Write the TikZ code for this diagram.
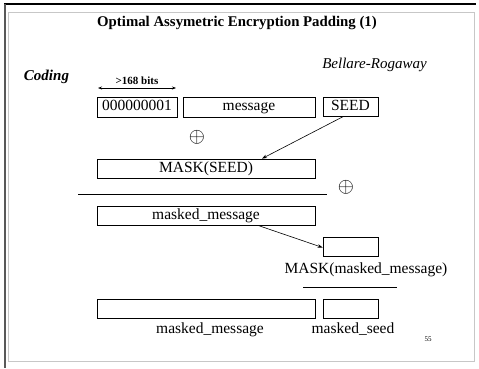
\documentclass[tikz,border=0pt]{standalone}
\usepackage{fontspec}
\setmainfont{Liberation Serif}
\usetikzlibrary{arrows.meta}
\tikzset{
  x=1pt, y=-1pt,
  box/.style={draw, line width=0.8pt, inner sep=0pt, minimum height=19pt,
    text height=10.5pt, text depth=3.2pt,
    font=\fontsize{15.5}{16}\selectfont},
  lbl/.style={inner sep=0pt, text height=10.5pt, text depth=3.2pt,
    font=\fontsize{15.5}{16}\selectfont},
  link/.style={line width=0.6pt, -{Stealth[length=5pt,width=3.5pt]}},
  rule/.style={line width=0.8pt},
  xorsym/.style={inner sep=0pt, font=\fontsize{22}{22}\selectfont},
}
\begin{document}
\begin{tikzpicture}
\useasboundingbox (0,0) rectangle (479,368);
% slide frame
\draw[line width=1.5pt] (4,4) -- (476,4);
\draw[line width=2pt, black!65] (4.5,4) -- (4.5,368);
\draw[line width=0.9pt, black!22] (8.5,12.5) rectangle (474.5,361.5);

% headings
\node[inner sep=0pt, font=\fontsize{14.8}{16}\selectfont\bfseries] (title) at (237,23)
  {Optimal Assymetric Encryption Padding (1)};
\node[lbl, font=\fontsize{15}{16}\selectfont\itshape] (authors) at (374.5,65) {Bellare-Rogaway};
\node[lbl, font=\fontsize{15}{16}\selectfont\bfseries\itshape] (coding) at (46.5,77) {Coding};

% width of the padding block
\node[inner sep=0pt, font=\fontsize{11}{12}\selectfont\bfseries] (bits) at (137,81) {>168 bits};
\coordinate (bl) at (98,88);
\coordinate (br) at (176,88);
\draw[line width=0.6pt, {Stealth[length=4pt,width=3pt]}-{Stealth[length=4pt,width=3pt]}] (bl) -- (br);

% input blocks
\node[box, minimum width=80pt, minimum height=20pt] (zeros) at (137,107) {000000001};
\node[box, minimum width=132pt, minimum height=20pt] (msg) at (249,107) {message};
\node[box, minimum width=55pt] (seed) at (350.5,106.5) {SEED};

\node[xorsym] (xor1) at (197,137) {$\oplus$};

\node[box, minimum width=218pt] (maskseed) at (206,168.5) {MASK(SEED)};
\draw[link] ([xshift=-7pt]seed.south) -- ([xshift=56pt]maskseed.north);

% first xor
\coordinate (r1a) at (78,194);
\coordinate (r1b) at (327,194);
\draw[rule] (r1a) -- (r1b);
\node[xorsym] (xor2) at (346,187) {$\oplus$};

\node[box, minimum width=218pt] (mm) at (206,215.5) {masked\_message};
\node[box, minimum width=55pt] (mmask) at (350.5,246.5) {};
\draw[link] ([xshift=52pt]mm.south) -- ([yshift=-1pt]mmask.west);
\node[lbl] (mmasklbl) at (366,270) {MASK(masked\_message)};

% second xor
\coordinate (r2a) at (303,287);
\coordinate (r2b) at (397,287);
\draw[rule] (r2a) -- (r2b);

% output blocks
\node[box, minimum width=218pt] (outmsg) at (206,308.5) {};
\node[box, minimum width=55pt] (outseed) at (350.5,308.5) {};
\node[lbl] (outmsglbl) at (210,330) {masked\_message};
\node[lbl] (outseedlbl) at (353,330) {masked\_seed};

\node[inner sep=0pt, font=\fontsize{7}{8}\selectfont] (page) at (428,339) {55};
\end{tikzpicture}
\end{document}
